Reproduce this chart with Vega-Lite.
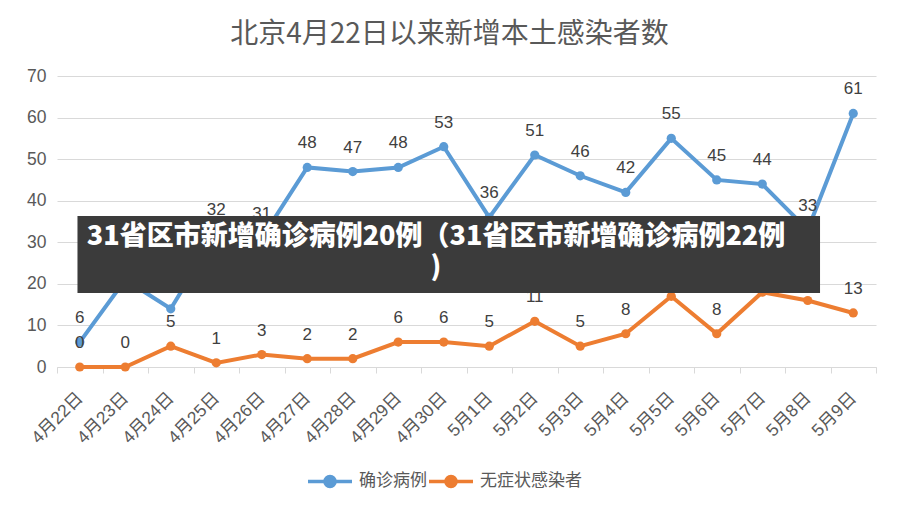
{
  "$schema": "https://vega.github.io/schema/vega-lite/v6.json",
  "width": 819,
  "height": 291,
  "autosize": {"type": "none"},
  "padding": {"left": 57, "top": 76, "right": 22, "bottom": 143},
  "background": "white",
  "title": {
    "text": "北京4月22日以来新增本土感染者数",
    "font": "Noto Sans CJK SC",
    "fontSize": 28,
    "fontWeight": "normal",
    "color": "#595959",
    "anchor": "middle",
    "dx": -17,
    "offset": 18
  },
  "datasets": {
    "cases": [
      {"date": "4月22日", "series": "确诊病例", "value": 6},
      {"date": "4月23日", "series": "确诊病例", "value": 21},
      {"date": "4月24日", "series": "确诊病例", "value": 14},
      {"date": "4月25日", "series": "确诊病例", "value": 32},
      {"date": "4月26日", "series": "确诊病例", "value": 31},
      {"date": "4月27日", "series": "确诊病例", "value": 48},
      {"date": "4月28日", "series": "确诊病例", "value": 47},
      {"date": "4月29日", "series": "确诊病例", "value": 48},
      {"date": "4月30日", "series": "确诊病例", "value": 53},
      {"date": "5月1日", "series": "确诊病例", "value": 36},
      {"date": "5月2日", "series": "确诊病例", "value": 51},
      {"date": "5月3日", "series": "确诊病例", "value": 46},
      {"date": "5月4日", "series": "确诊病例", "value": 42},
      {"date": "5月5日", "series": "确诊病例", "value": 55},
      {"date": "5月6日", "series": "确诊病例", "value": 45},
      {"date": "5月7日", "series": "确诊病例", "value": 44},
      {"date": "5月8日", "series": "确诊病例", "value": 33},
      {"date": "5月9日", "series": "确诊病例", "value": 61},
      {"date": "4月22日", "series": "无症状感染者", "value": 0},
      {"date": "4月23日", "series": "无症状感染者", "value": 0},
      {"date": "4月24日", "series": "无症状感染者", "value": 5},
      {"date": "4月25日", "series": "无症状感染者", "value": 1},
      {"date": "4月26日", "series": "无症状感染者", "value": 3},
      {"date": "4月27日", "series": "无症状感染者", "value": 2},
      {"date": "4月28日", "series": "无症状感染者", "value": 2},
      {"date": "4月29日", "series": "无症状感染者", "value": 6},
      {"date": "4月30日", "series": "无症状感染者", "value": 6},
      {"date": "5月1日", "series": "无症状感染者", "value": 5},
      {"date": "5月2日", "series": "无症状感染者", "value": 11},
      {"date": "5月3日", "series": "无症状感染者", "value": 5},
      {"date": "5月4日", "series": "无症状感染者", "value": 8},
      {"date": "5月5日", "series": "无症状感染者", "value": 17},
      {"date": "5月6日", "series": "无症状感染者", "value": 8},
      {"date": "5月7日", "series": "无症状感染者", "value": 18},
      {"date": "5月8日", "series": "无症状感染者", "value": 16},
      {"date": "5月9日", "series": "无症状感染者", "value": 13}
    ],
    "banner": [
      {"x1": -0.05, "x2": 16.27, "y1": 17.8, "y2": 36.3}
    ],
    "bannerText": [
      {"t": "31省区市新增确诊病例20例（31省区市新增确诊病例22例", "x": 7.83, "y": 31.3},
      {"t": ")", "x": 7.83, "y": 23.8}
    ]
  },
  "layer": [
    {
      "data": {"name": "cases"},
      "encoding": {
        "x": {
          "field": "date",
          "type": "ordinal",
          "sort": null,
          "scale": {"type": "band", "paddingInner": 0, "paddingOuter": 0},
          "axis": {
            "title": null,
            "labelAngle": -45,
            "labelAlign": "right",
            "labelBaseline": "middle",
            "labelFontSize": 17.5,
            "labelColor": "#595959",
            "labelFont": "Liberation Sans, Noto Sans CJK SC",
            "ticks": true,
            "tickBand": "extent",
            "tickSize": 6,
            "tickColor": "#d9d9d9",
            "grid": false,
            "domainColor": "#d9d9d9",
            "labelPadding": 22
          }
        },
        "y": {
          "field": "value",
          "type": "quantitative",
          "scale": {"domain": [0, 70]},
          "axis": {
            "title": null,
            "values": [0, 10, 20, 30, 40, 50, 60, 70],
            "grid": true,
            "gridColor": "#d9d9d9",
            "domain": false,
            "ticks": false,
            "labelFontSize": 17.5,
            "labelColor": "#595959",
            "labelFont": "Liberation Sans",
            "labelPadding": 11
          }
        }
      },
      "layer": [
        {
          "mark": {"type": "line", "strokeWidth": 4},
          "encoding": {
            "color": {
              "field": "series",
              "type": "nominal",
              "sort": ["确诊病例", "无症状感染者"],
              "scale": {"domain": ["确诊病例", "无症状感染者"], "range": ["#5B9BD5", "#ED7D31"]},
              "legend": {
                "orient": "none",
                "legendX": 249,
                "legendY": 381,
                "direction": "horizontal",
                "title": null,
                "symbolType": "M-1,0H1M-0.23,0A0.23,0.23 0 1,1 0.23,0A0.23,0.23 0 1,1 -0.23,0Z",
                "symbolSize": 1936,
                "symbolStrokeWidth": 3.5,
                "symbolOpacity": 1,
                "labelFontSize": 17,
                "labelColor": "#595959",
                "labelFont": "Noto Sans CJK SC",
                "labelOffset": 5,
                "columnPadding": -5,
                "encode": {
                  "symbols": {
                    "update": {
                      "fill": {"scale": "color", "field": "value"},
                      "stroke": {"scale": "color", "field": "value"}
                    }
                  }
                }
              }
            }
          }
        },
        {
          "mark": {"type": "point", "filled": true, "size": 85, "opacity": 1},
          "encoding": {
            "color": {"field": "series", "type": "nominal", "sort": ["确诊病例", "无症状感染者"]}
          }
        },
        {
          "mark": {
            "type": "text",
            "dy": -24,
            "fontSize": 17,
            "font": "Liberation Sans",
            "color": "#404040"
          },
          "encoding": {"text": {"field": "value", "type": "quantitative"}}
        }
      ]
    },
    {
      "data": {"name": "banner"},
      "mark": {"type": "rect", "color": "#3b3b3b", "opacity": 1},
      "encoding": {
        "x": {"field": "x1", "type": "quantitative", "scale": {"domain": [-0.5, 17.5]}, "axis": null},
        "x2": {"field": "x2"},
        "y": {"field": "y1", "type": "quantitative"},
        "y2": {"field": "y2"}
      }
    },
    {
      "data": {"name": "bannerText"},
      "mark": {
        "type": "text",
        "color": "white",
        "font": "Noto Sans CJK SC",
        "fontWeight": 900,
        "fontSize": 27,
        "align": "center",
        "baseline": "middle"
      },
      "encoding": {
        "x": {"field": "x", "type": "quantitative", "scale": {"domain": [-0.5, 17.5]}, "axis": null},
        "y": {"field": "y", "type": "quantitative"},
        "text": {"field": "t"}
      }
    }
  ],
  "resolve": {"scale": {"x": "independent"}},
  "config": {
    "view": {"stroke": null}
  }
}
